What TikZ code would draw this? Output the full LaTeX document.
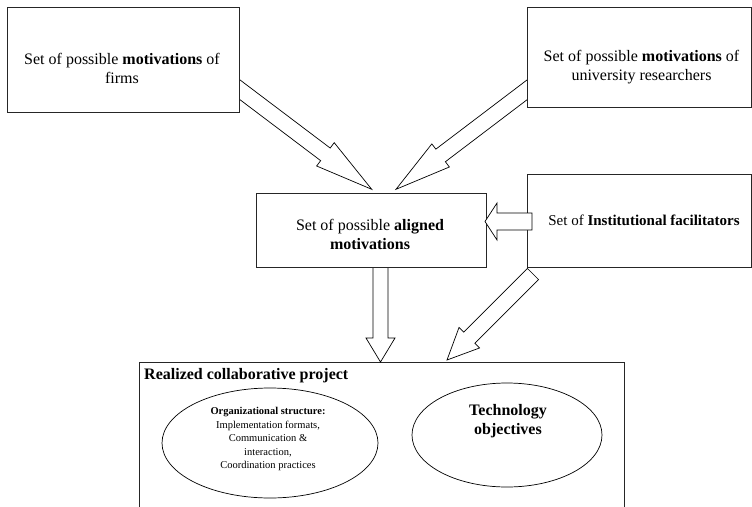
\documentclass[tikz,border=0pt]{standalone}
\usepackage{fontspec}
\setmainfont{Liberation Serif}
\usetikzlibrary{calc,shapes.geometric}
\tikzset{
 boxnode/.style={draw=black!85, line width=0.9pt, fill=white, inner sep=0pt},
 txt/.style={inner sep=0pt, align=center, font=\fontsize{16}{19}\selectfont},
 midtxt/.style={inner sep=0pt, align=center, font=\fontsize{15}{18}\selectfont},
 small/.style={inner sep=0pt, align=center, font=\fontsize{10.5}{13.5}\selectfont},
 ell/.style={draw=black, line width=0.7pt, ellipse, inner sep=0pt},
 arrowshape/.style={draw=black, line width=0.7pt, fill=white, line join=miter},
}
% #1 id, #2 start, #3 end, #4 shaft half width, #5 head half width, #6 head length
\newcommand{\blockarrow}[6]{%
 \coordinate (#1-h) at ($(#3)!#6!(#2)$);
 \draw[arrowshape] ($(#2)!#4!90:(#3)$) -- ($(#1-h)!#4!90:(#3)$) -- ($(#1-h)!#5!90:(#3)$) -- (#3)
   -- ($(#1-h)!#5!-90:(#3)$) -- ($(#1-h)!#4!-90:(#3)$) -- ($(#2)!#4!-90:(#3)$) -- cycle;}
\begin{document}
\begin{tikzpicture}[x=1pt,y=1pt]
\useasboundingbox (0,0) rectangle (752,-506);
\clip (0,0) rectangle (752,-506);
% bottom project box
\node[boxnode, minimum width=485pt, minimum height=158pt] (b5) at (381.5,-441) {};
\node[txt, anchor=west, font=\fontsize{16}{19}\selectfont\bfseries] (b5t) at (144,-376) {Realized collaborative project};
\node[ell, minimum width=216pt, minimum height=110pt] (e1) at (270,-443) {};
\node[small] (e1t) at (268,-439) {\textbf{Organizational structure:}\\Implementation formats,\\Communication \&\\interaction,\\Coordination practices};
\node[ell, minimum width=190pt, minimum height=104pt] (e2) at (507,-435) {};
\node[txt, font=\fontsize{16}{19}\selectfont\bfseries] (e2t) at (508,-421) {Technology\\objectives};
% arrow end points
\coordinate (a1s) at (227,-80);   \coordinate (a1e) at (371.7,-189.3);
\coordinate (a2s) at (540,-80);   \coordinate (a2e) at (396,-189.3);
\coordinate (a3s) at (532,-221.5); \coordinate (a3e) at (485,-221.5);
\coordinate (a4s) at (380.5,-260); \coordinate (a4e) at (380.5,-362);
\coordinate (a5s) at (533,-274);  \coordinate (a5e) at (447,-360);
\blockarrow{a1}{a1s}{a1e}{7.9pt}{14.6pt}{58pt}
\blockarrow{a2}{a2s}{a2e}{7.9pt}{14.5pt}{56pt}
\blockarrow{a4}{a4s}{a4e}{7.5pt}{14.5pt}{24pt}
% boxes
\node[boxnode, minimum width=232pt, minimum height=105pt] (b1) at (123,-59.5) {};
\node[txt] (b1t) at (122,-68) {Set of possible \textbf{motivations} of\\firms};
\node[boxnode, minimum width=224pt, minimum height=100pt] (b2) at (639,-57) {};
\node[txt] (b2t) at (641.5,-67.5) {Set of possible \textbf{motivations} of\\university researchers};
\node[boxnode, minimum width=230pt, minimum height=74pt] (b3) at (371,-230) {};
\node[txt] (b3t) at (370,-234.5) {Set of possible \textbf{aligned}\\\textbf{motivations}};
\node[boxnode, minimum width=224pt, minimum height=93pt] (b4) at (639,-220.5) {};
\node[midtxt] (b4t) at (644,-220) {Set of \textbf{Institutional facilitators}};
\blockarrow{a3}{a3s}{a3e}{8.5pt}{18.5pt}{12pt}
\blockarrow{a5}{a5s}{a5e}{7.8pt}{14.5pt}{31.5pt}
\end{tikzpicture}
\end{document}
